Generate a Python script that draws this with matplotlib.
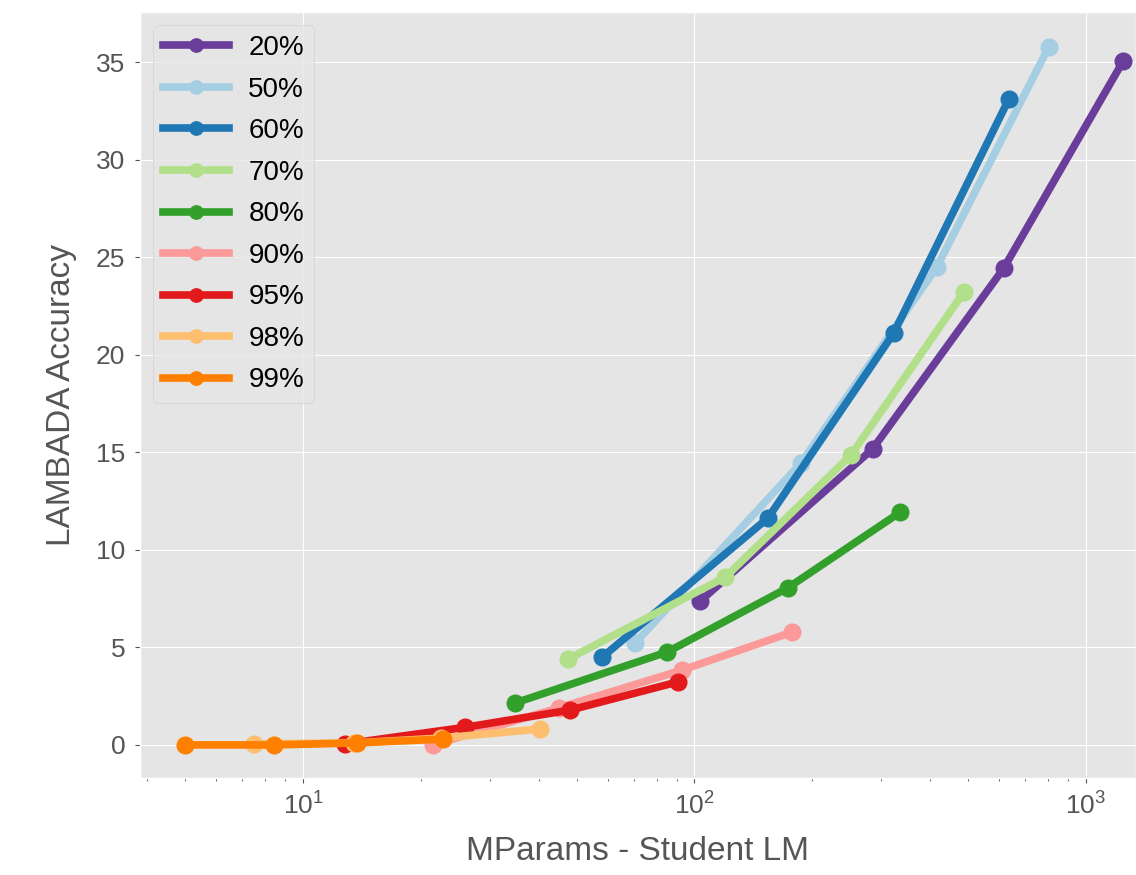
import matplotlib
matplotlib.use("Agg")
import matplotlib.pyplot as plt

plt.style.use("ggplot")
plt.rcParams["font.family"] = ["Liberation Sans", "DejaVu Sans"]

labels = ["20%", "50%", "60%", "70%", "80%", "90%", "95%", "98%", "99%"]
colors = ["#6a3d9a", "#a6cee3", "#1f78b4", "#b2df8a", "#33a02c",
          "#fb9a99", "#e31a1c", "#fdbf6f", "#ff7f00"]

mparams = [
    [103.5, 285, 617, 1245],
    [70.6, 187, 416, 803],
    [58.2, 154, 323, 635],
    [47.6, 120, 251, 487],
    [34.8, 85.3, 173, 336],
    [21.5, 45, 93, 178],
    [12.8, 25.9, 48.2, 90.6],
    [7.5, 13.5, 22.5, 40.4],
    [4.99, 8.43, 13.7, 22.8],
]
accuracy = [
    [7.38, 15.17, 24.45, 35.06],
    [5.23, 14.45, 24.5, 35.78],
    [4.51, 11.63, 21.12, 33.1],
    [4.41, 8.61, 14.86, 23.2],
    [2.15, 4.77, 8.05, 11.94],
    [0.0, 1.9, 3.84, 5.79],
    [0.05, 0.9, 1.79, 3.23],
    [0.05, 0.1, 0.35, 0.82],
    [0.0, 0.0, 0.1, 0.3],
]

fig = plt.figure(figsize=(11.36, 8.75), dpi=100)
ax = fig.add_axes([0.1232, 0.111, 0.8768, 0.875])

for x, y, lab, c in zip(mparams, accuracy, labels, colors):
    ax.plot(x, y, "-o", color=c, label=lab, linewidth=5.5, markersize=12)

ax.set_xscale("log")
ax.set_xlim(3.83, 1343)
ax.set_ylim(-1.69, 37.57)
ax.set_yticks([0, 5, 10, 15, 20, 25, 30, 35])
ax.tick_params(labelsize=19, colors="#555555", pad=7)
ax.tick_params(axis="x", which="minor", colors="#555555")
ax.set_xlabel("MParams - Student LM", fontsize=24, color="#555555", labelpad=12)
ax.set_ylabel("LAMBADA Accuracy", fontsize=24, color="#555555", labelpad=14)

leg = ax.legend(loc="upper left", fontsize=20, numpoints=1, handlelength=2.4,
                handletextpad=0.68, labelspacing=0.56, borderaxespad=0.47,
                borderpad=0.35, markerscale=0.8)
leg.get_frame().set_facecolor("#e5e5e5")
leg.get_frame().set_edgecolor("#cccccc")
for t in leg.get_texts():
    t.set_color("black")

fig.savefig("out.png", dpi=100)
